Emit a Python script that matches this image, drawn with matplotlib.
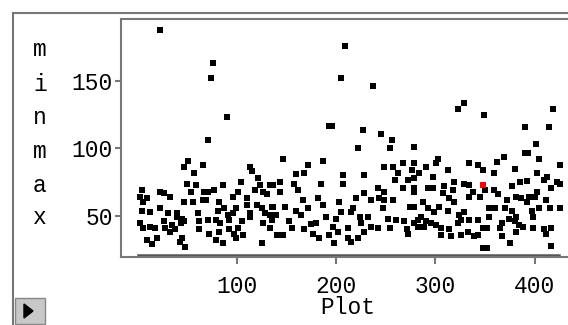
import matplotlib
matplotlib.use("Agg")
import matplotlib.pyplot as plt
from matplotlib.patches import Rectangle, Polygon
from matplotlib.lines import Line2D

# ---- data (Plot, minmax) ----
plot_x = [
    23, 76, 74, 90, 71, 209, 205, 237, 329, 323, 349, 418, 193, 196, 227, 245, 256, 390, 414,
    51, 47, 66, 57, 50, 59, 54, 67, 5, 3, 10, 6, 23, 27, 33, 47, 56, 66, 5, 13, 23, 31, 40, 61,
    40, 45, 3, 6, 13, 18, 27, 28, 35, 38, 44, 47, 33, 62, 62, 10, 20, 15, 45, 43, 48,
    114, 116, 122, 104, 86, 134, 124, 77, 71, 101, 119, 127, 131, 69, 96, 111, 82, 111, 121,
    126, 136, 81, 87, 99, 91, 96, 114, 114, 129, 134, 71, 79, 83, 92, 106, 127, 136, 134,
    72, 82, 92, 97, 101, 107, 79, 86, 99, 126,
    147, 172, 187, 160, 168, 207, 144, 137, 158, 185, 207, 144, 162, 167, 182, 187, 203, 137,
    149, 160, 172, 140, 165, 190, 205, 200, 153, 175, 180, 197, 156, 168, 177, 183, 193, 202,
    147, 141, 198,
    222, 254, 278, 248, 257, 267, 262, 276, 228, 259, 272, 267, 242, 248, 278, 228, 220, 235,
    243, 248, 257, 217, 247, 274, 215, 224, 232, 252, 260, 268, 278, 225, 235, 242, 254, 212,
    228, 271, 272, 212, 215, 222,
    278, 303, 301, 291, 284, 313, 298, 334, 343, 348, 278, 319, 309, 329, 334, 278, 293, 298,
    308, 318, 338, 334, 345, 314, 319, 288, 293, 299, 304, 313, 278, 324, 329, 326, 334, 343,
    323, 283, 286, 291, 296, 301, 283, 289, 306, 306, 314, 316, 326, 333, 339, 343, 348, 348,
    401, 393, 390, 369, 362, 404, 425, 359, 380, 402, 409, 412, 392, 385, 377, 422, 425, 416,
    350, 359, 363, 381, 386, 394, 402, 400, 392, 411, 372, 354, 360, 370, 377, 397, 404, 415,
    425, 354, 374, 381, 398, 380, 384, 388, 367, 352, 365, 381, 398, 409, 411, 416, 367, 375,
    352, 416,
]
minmax = [
    188, 163, 152, 123, 106, 176, 152, 146, 134, 129, 125, 129, 117, 117, 114, 111, 106, 116, 116,
    91, 86, 88, 82, 74, 73, 68, 68, 69, 64, 63, 60, 68, 67, 64, 60, 60, 62, 54, 53, 56, 52, 52, 52,
    49, 48, 45, 41, 42, 41, 46, 41, 43, 40, 45, 46, 38, 46, 40, 32, 34, 29, 34, 31, 27,
    86, 83, 78, 75, 73, 73, 73, 69, 68, 68, 69, 68, 66, 62, 64, 63, 60, 58, 58,
    56, 57, 54, 56, 56, 51, 52, 52, 49, 52, 51, 47, 47, 45, 47, 46, 45, 47, 41,
    37, 38, 40, 37, 41, 36, 32, 30, 34, 30,
    92, 88, 91, 81, 82, 80, 75, 73, 74, 74, 74, 68, 69, 62, 63, 58, 60, 57,
    57, 54, 56, 51, 51, 49, 53, 48, 46, 44, 45, 42, 41, 40, 37, 34, 36, 38,
    36, 36, 30,
    100, 100, 101, 86, 86, 89, 82, 84, 80, 77, 77, 71, 71, 68, 68, 67, 63, 62,
    63, 62, 62, 56, 56, 57, 53, 49, 49, 48, 47, 46, 45, 45, 42, 41, 41, 41,
    38, 40, 37, 34, 31, 34,
    89, 92, 89, 86, 82, 84, 79, 89, 88, 84, 78, 75, 72, 74, 73, 71, 71, 71,
    67, 69, 68, 64, 64, 63, 60, 60, 56, 53, 57, 54, 57, 51, 53, 47, 47, 47,
    45, 47, 49, 46, 45, 43, 42, 42, 41, 36, 40, 35, 36, 38, 35, 36, 41, 26,
    103, 97, 97, 94, 90, 92, 88, 82, 85, 82, 77, 79, 76, 75, 72, 75, 74, 71,
    69, 69, 66, 64, 63, 64, 68, 64, 60, 62, 62, 56, 56, 56, 54, 54, 56, 56,
    56, 49, 48, 49, 49, 46, 43, 42, 45, 41, 41, 38, 41, 40, 37, 41, 35, 30,
    26, 28,
]
highlight_x = [348]
highlight_y = [73]

x_ticks = [100, 200, 300, 400]
y_ticks = [50, 100, 150]
x_label = "Plot"
y_label = "minmax"

FONT = ["Liberation Mono", "DejaVu Sans Mono"]
FS = 16.5
W, H = 568, 325
fig = plt.figure(figsize=(W / 100, H / 100), dpi=100)
fig.patch.set_facecolor("white")

def fx(px):
    return px / W

def fy(py):
    return 1 - py / H

ax_l, ax_t, ax_b, ax_r = 121, 19, 257, 572
ax = fig.add_axes([fx(ax_l), fy(ax_b), fx(ax_r - ax_l), (ax_b - ax_t) / H])
ax.set_xlim(-16.2, 437.4)
ax.set_ylim(19.6, 195.9)

ax.plot(plot_x, minmax, linestyle="none", marker="s", markersize=5.0,
        markerfacecolor="black", markeredgewidth=0, color="black")
ax.plot(highlight_x, highlight_y, linestyle="none", marker="s", markersize=5.0,
        markerfacecolor="red", markeredgewidth=0, color="red")

ax.spines["right"].set_visible(False)
for s in ["left", "top", "bottom"]:
    ax.spines[s].set_color("#777777")
    ax.spines[s].set_linewidth(1.5)

# darker axis line under the data range
ax.plot([1, 424], [21.0, 21.0], color="#555555", linewidth=1.8, clip_on=False)

ax.set_xticks(x_ticks)
ax.set_yticks(y_ticks)
ax.set_xticklabels([str(t) for t in x_ticks], fontfamily=FONT, fontsize=FS)
ax.set_yticklabels([str(t) for t in y_ticks], fontfamily=FONT, fontsize=FS)
ax.tick_params(axis="x", direction="out", length=5, width=1.5, color="#777777", pad=8)
ax.tick_params(axis="y", direction="out", length=4, width=1.5, color="#777777", pad=2)

# x label
fig.text(fx(348), fy(307), x_label, ha="center", va="center", family=FONT, fontsize=FS)
# vertical y label, letter by letter
ys = [50, 84, 117, 151, 185, 218]
for ch, yy in zip(y_label, ys):
    fig.text(fx(40), fy(yy), ch, ha="center", va="center", family=FONT, fontsize=FS)

# outer report frame
fig.add_artist(Line2D([fx(13), fx(13)], [fy(13), fy(325)], color="#777777", linewidth=1.5))
fig.add_artist(Line2D([fx(13), fx(568)], [fy(13), fy(13)], color="#777777", linewidth=1.5))

# disclosure button
fig.add_artist(Rectangle((fx(15), fy(324)), fx(30), (324 - 298) / H, facecolor="#c8c8c8",
                         edgecolor="#888888", linewidth=1))
fig.add_artist(Polygon([[fx(24), fy(304)], [fx(24), fy(318)], [fx(33), fy(311)]],
                       closed=True, facecolor="black", edgecolor="black"))

fig.savefig("out.png", dpi=100)
